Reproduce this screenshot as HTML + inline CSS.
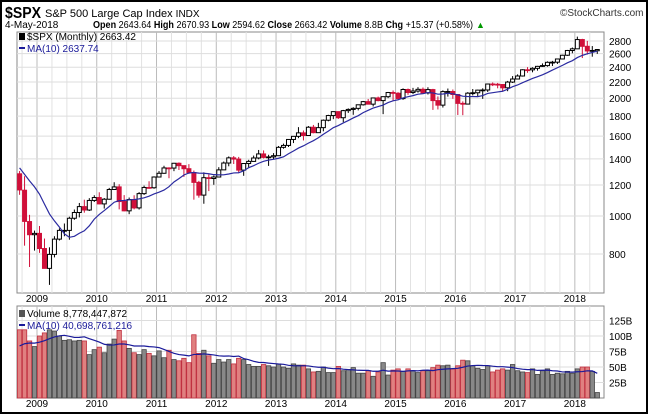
<!DOCTYPE html>
<html><head><meta charset="utf-8"><style>
body{margin:0;background:#fff;font-family:"Liberation Sans",sans-serif}
#wrap{position:relative;width:650px;height:415px;overflow:hidden}
</style></head><body>
<div id="wrap">
<svg id="svg" width="650" height="415" xmlns="http://www.w3.org/2000/svg" font-family="Liberation Sans, sans-serif">
<rect x="1" y="1" width="646" height="412" fill="#fff" stroke="#000" stroke-width="2"/>
<text x="5" y="18" font-size="16" font-weight="bold" textLength="36" lengthAdjust="spacingAndGlyphs">$SPX</text>
<text x="45" y="17" font-size="11">S&amp;P 500 Large Cap Index <tspan font-size="10">INDX</tspan></text>
<text x="560" y="16" font-size="10" fill="#333">©StockCharts.com</text>
<text x="5" y="28" font-size="10">4-May-2018</text>
<text x="93" y="28" font-size="10" textLength="380" lengthAdjust="spacingAndGlyphs"><tspan font-weight="bold">Open</tspan> 2643.64 <tspan font-weight="bold">High</tspan> 2670.93 <tspan font-weight="bold">Low</tspan> 2594.62 <tspan font-weight="bold">Close</tspan> 2663.42 <tspan font-weight="bold">Volume</tspan> 8.8B <tspan font-weight="bold">Chg</tspan> +15.37 (+0.58%)</text>
<text x="476" y="28" font-size="9" fill="#090">▲</text>
<g id="price"></g><g id="vol"></g>
</svg>
</div>
<script>
const months=117; // Sep 2008 .. May 2018
const closes=[1166,969,896,903,826,735,798,873,919,919,987,1021,1057,1036,1096,1115,
1074,1104,1169,1187,1089,1031,1102,1049,1141,1183,1181,1258,
1286,1327,1326,1364,1345,1321,1292,1219,1131,1253,1247,1258,
1312,1366,1408,1398,1310,1362,1379,1407,1441,1412,1416,1426,
1498,1515,1569,1598,1631,1606,1686,1633,1682,1757,1806,1848,
1783,1859,1872,1884,1924,1960,1931,2003,1972,2018,2068,2059,
1995,2105,2068,2086,2107,2063,2104,1972,1920,2079,2080,2044,
1940,1932,2060,2065,2097,2099,2174,2171,2168,2126,2199,2239,
2279,2364,2363,2384,2412,2423,2470,2472,2519,2575,2648,2674,
2824,2714,2641,2648,2663];
const opens=[1282,1164,968,896,903,826,735,798,873,919,919,987,1021,1057,1036,1096,
1115,1074,1104,1169,1187,1089,1031,1102,1049,1141,1183,1181,
1258,1286,1327,1326,1364,1345,1321,1292,1219,1131,1253,1247,
1258,1312,1366,1408,1398,1310,1362,1379,1407,1441,1412,1416,
1426,1498,1515,1569,1598,1631,1606,1686,1633,1682,1757,1806,
1848,1783,1859,1872,1884,1924,1960,1931,2003,1972,2018,2068,
2059,1995,2105,2068,2086,2107,2063,2104,1972,1920,2079,2080,
2044,1940,1932,2060,2065,2097,2099,2174,2171,2168,2126,2199,
2239,2279,2364,2363,2384,2412,2423,2470,2472,2519,2575,2648,
2674,2824,2714,2641,2644];
const highs=[1303,1264,1007,918,943,876,832,888,930,957,996,1039,1080,1101,1111,1130,
1150,1112,1180,1220,1206,1131,1115,1130,1151,1196,1227,1263,
1303,1344,1332,1367,1371,1346,1357,1307,1230,1293,1278,1269,
1333,1378,1420,1423,1416,1364,1392,1427,1475,1471,1434,1448,
1510,1531,1570,1598,1687,1654,1698,1709,1730,1765,1814,1850,
1850,1867,1884,1897,1924,1968,1991,2006,2019,2018,2075,2093,
2072,2119,2117,2126,2134,2130,2133,2113,2021,2094,2117,2105,
2039,1963,2073,2111,2103,2120,2178,2194,2188,2169,2214,2278,
2301,2371,2401,2399,2418,2454,2484,2491,2519,2582,2657,2695,
2873,2836,2802,2718,2671];
const lows=[1133,840,741,816,805,735,667,784,866,888,870,978,992,1020,1030,1086,
1071,1045,1101,1167,1040,1028,1011,1040,1039,1132,1174,1174,
1257,1282,1249,1302,1311,1259,1282,1101,1114,1075,1158,1202,
1258,1311,1340,1358,1291,1267,1325,1378,1396,1403,1343,1398,
1426,1486,1501,1536,1581,1560,1605,1627,1633,1646,1746,1768,
1770,1737,1834,1814,1862,1915,1930,1905,1964,1821,2001,1973,
1988,1981,2040,2048,2067,2057,2044,1867,1872,1893,2019,1993,
1812,1810,1937,2033,2025,1992,2075,2148,2120,2084,2084,2187,
2233,2271,2322,2329,2353,2405,2407,2417,2446,2520,2566,2605,
2683,2533,2585,2553,2595];
const closeHist=[1468,1378,1330,1322,1385,1400,1280,1267,1283];
const volumes=[110,110,92,83,100,105,110,108,100,93,94,92,93,92,70,78,
82,73,87,95,109,92,80,73,70,78,72,68,
76,65,77,62,60,64,57,102,72,77,68,56,
62,58,62,55,64,62,54,51,51,54,52,50,
55,50,48,55,53,53,47,42,43,50,41,41,
51,44,46,49,40,40,44,35,42,57,37,45,
47,43,47,44,41,44,44,49,53,52,53,47,
52,61,60,52,48,46,52,42,45,47,45,54,
44,42,41,47,38,44,47,38,40,39,43,40,
47,50,50,43,8.8];
const volHist=[75,80,85,85,80,78,80,82,85];
const priceTicks=[800,1000,1200,1400,1600,1800,2000,2200,2400,2600,2800];
const volTicks=[25,50,75,100,125];
const yearLabels=["2009","2010","2011","2012","2013","2014","2015","2016","2017","2018"];

const NS="http://www.w3.org/2000/svg";
const L=17,R=604,PT=32,PB=293,VT=306,VB=398;
const xM=i=>37+(i-4)*4.98+2.5;            // month index -> center x
const yP=v=>41+170*Math.log(2800/v);     // log price scale
const yV=v=>398-0.62*v;                  // volume scale
function mk(tag,attrs,parent){const e=document.createElementNS(NS,tag);for(const k in attrs)e.setAttribute(k,attrs[k]);parent.appendChild(e);return e;}
const P=document.getElementById('price'),V=document.getElementById('vol');

function panel(g,top,bot,name){
  const f=mk('rect',{x:L,y:top,width:R-L,height:bot-top,fill:'#fff',stroke:'#888'},g);
  
  
  for(let q=0;q<40;q++){const x=37+(q-1)*14.94;if(x<=L||x>=R)continue;
    const gl=mk('line',{x1:x,x2:x,y1:top,y2:bot,stroke:(q%4==1)?'#bbb':'#e2e2e2'},g);
    
    }
}
panel(P,PT,PB,'price-panel');panel(V,VT,VB,'volume-panel');

priceTicks.forEach(t=>{const y=yP(t);
  const l=mk('line',{x1:L,x2:R,y1:y,y2:y,stroke:'#ddd'},P);
  
  
  const tx=mk('text',{x:609,y:y+4,'font-size':10},P);tx.textContent=t;
  
  });
volTicks.forEach(t=>{const y=yV(t);
  const l=mk('line',{x1:L,x2:R,y1:y,y2:y,stroke:'#ddd'},V);
  
  
  const tx=mk('text',{x:609,y:y+4,'font-size':10},V);tx.textContent=t+'B';
  
  });
yearLabels.forEach((s,k)=>{const x=xM(4+k*12)-2.5;
  [302,407].forEach(yy=>{const t=mk('text',{x:x,y:yy,'font-size':10,'text-anchor':'middle'},P);t.textContent=s;
  
  });});

// volume bars
volumes.forEach((v,i)=>{const down=closes[i]<opens[i];const x=xM(i);const y=Math.max(yV(v),VT);
  const b=mk('rect',{x:x-2.2,y:y,width:4.4,height:VB-y,fill:down?'#e08080':'#888',stroke:down?'#c03040':'#444','stroke-width':0.8},V);
  
  });
const allV=volHist.concat(volumes);let vp='';
volumes.forEach((v,i)=>{let s=0;for(let k=0;k<10;k++)s+=allV[i+9-k];vp+=(i?'L':'M')+xM(i)+' '+yV(s/10);});
const vm=mk('path',{d:vp,fill:'none',stroke:'#1a1a9a','stroke-width':1.2},V);



// candles
closes.forEach((c,i)=>{const o=opens[i],down=c<o,x=xM(i);const col=down?'#d0103a':'#000';
  const w=mk('line',{x1:x,x2:x,y1:yP(highs[i]),y2:yP(lows[i]),stroke:col,'stroke-width':1},P);
  
  
  const t=yP(Math.max(o,c)),b=yP(Math.min(o,c));
  const r=mk('rect',{x:x-2,y:t,width:4,height:Math.max(b-t,0.8),fill:down?'#d0103a':'#fff',stroke:down?'#d0103a':'#000','stroke-width':1},P);
  
  });
const allC=closeHist.concat(closes);let pp='';
closes.forEach((c,i)=>{let s=0;for(let k=0;k<10;k++)s+=allC[i+9-k];pp+=(i?'L':'M')+xM(i)+' '+yP(s/10);});
const pm=mk('path',{d:pp,fill:'none',stroke:'#2a2aa0','stroke-width':1.2},P);



// legends
function txt(g,x,y,s,fill,name){const t=mk('text',{x:x,y:y,'font-size':10,fill:fill},g);t.textContent=s;
  
  }
txt(P,27,40,'$SPX (Monthly) 2663.42','#000','price-legend');
mk('rect',{x:19,y:33,width:6,height:7,fill:'#000'},P);
mk('line',{x1:19,x2:25,y1:48,y2:48,stroke:'#1a1a9a','stroke-width':2},P);
txt(P,27,52,'MA(10) 2637.74','#1a1a9a','price-ma-legend');
mk('rect',{x:19,y:310,width:6,height:7,fill:'#555'},V);
txt(V,27,317,'Volume 8,778,447,872','#000','volume-legend');
mk('line',{x1:19,x2:25,y1:325,y2:325,stroke:'#1a1a9a','stroke-width':2},V);
txt(V,27,329,'MA(10) 40,698,761,216','#1a1a9a','volume-ma-legend');
</script>
</body></html>
